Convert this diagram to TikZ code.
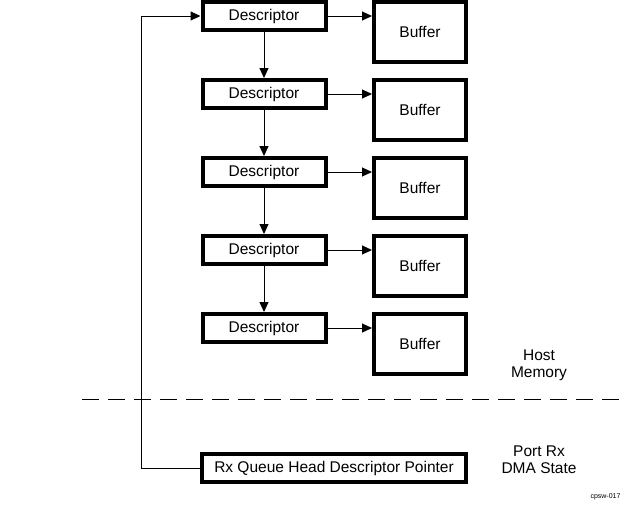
\documentclass[tikz,border=0pt]{standalone}
\usepackage{fontspec}
\setmainfont{Liberation Sans}
\usetikzlibrary{arrows.meta}

\begin{document}
\begin{tikzpicture}[x=1pt,y=-1pt,
  box/.style={draw,line width=4pt,inner sep=0pt,font=\fontsize{15.5}{17}\selectfont},
  desc/.style={box,minimum width=123pt,minimum height=28pt},
  buf/.style={box,minimum width=92pt,minimum height=60pt},
  link/.style={line width=1pt,-{Triangle[length=10pt,width=9pt]}},
  label/.style={align=center,font=\fontsize{15.5}{17}\selectfont}]
\useasboundingbox (0,0) rectangle (626,504);
\foreach \i/\y in {1/16,2/94,3/172,4/250,5/328}{
  \node[desc] (desc\i) at (264,\y) {Descriptor};
  \node[buf] (buf\i) at (420,\y+16) {Buffer};
  \draw[link] (desc\i.east) -- (desc\i.east -| buf\i.west);
}
\foreach \i/\j in {1/2,2/3,3/4,4/5}
  \draw[link] (desc\i) -- (desc\j);
\node[box,minimum width=264pt,minimum height=28pt] (rxptr) at (334,468) {Rx Queue Head Descriptor Pointer};
\coordinate (bend) at (141,468);
\draw[link] (rxptr.west) -- (bend) |- (desc1.west);
\draw[line width=1pt,dash pattern=on 17pt off 9pt] (82,399) coordinate (sepL) -- (626,399) coordinate (sepR);
\node[label] (host) at (539,365) {Host\\Memory};
\node[label] (port) at (539,460) {Port Rx\\DMA State};
\node[font=\fontsize{7}{8}\selectfont,anchor=east] (figid) at (624,497) {cpsw-017};
\end{tikzpicture}
\end{document}
